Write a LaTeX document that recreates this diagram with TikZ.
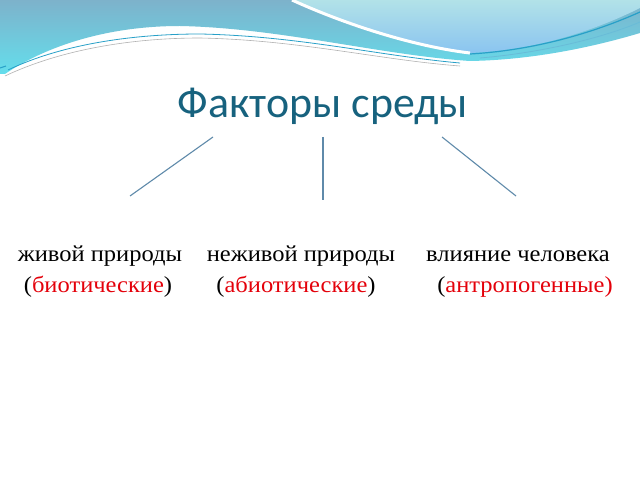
\documentclass[tikz,border=0pt]{standalone}
\usepackage{fontspec}
\setmainfont{Liberation Serif}
\newfontfamily\titlefont{Carlito}
\newfontfamily\bodyfont[FakeStretch=1.07]{Liberation Serif}
\definecolor{titlecol}{RGB}{23,98,126}
\definecolor{redtxt}{RGB}{228,0,10}
\definecolor{linecol}{RGB}{95,138,170}
\definecolor{bandtop}{RGB}{125,178,203}
\definecolor{bandbot}{RGB}{100,222,236}
\definecolor{lighttop}{RGB}{178,226,232}
\definecolor{lightbot}{RGB}{138,196,240}
\definecolor{stripe}{RGB}{40,160,200}
\tikzset{
  titlestyle/.style={font=\titlefont\fontsize{44}{50}\selectfont, text=titlecol, inner sep=0pt, anchor=base},
  bodystyle/.style={font=\bodyfont\fontsize{23}{27}\selectfont, inner sep=0pt, anchor=base},
  link/.style={draw=linecol, line width=1.1bp},
}
\begin{document}
\begin{tikzpicture}[x=1bp,y=-1bp]
\useasboundingbox (0,0) rectangle (640,480);
\fill[white] (0,0) rectangle (640,480);
% main band
\shade[top color=bandtop, bottom color=bandbot]
  (0,0) -- (640,0) -- (640,33)
  .. controls (590,48) and (530,60) .. (470,61)
  .. controls (380,55) and (280,28) .. (180,26)
  .. controls (100,26) and (40,50) .. (5,74)
  -- (0,74) -- cycle;
% light upper-right region
\shade[top color=lighttop, bottom color=lightbot]
  (292,0) .. controls (340,22) and (410,46) .. (470,53)
  .. controls (540,50) and (600,28) .. (640,8)
  -- (640,0) -- cycle;
\draw[white, line width=3bp] (292,0) .. controls (340,22) and (410,46) .. (470,53);
% stripes
\draw[stripe, line width=1.2bp] (470,54) .. controls (540,50) and (600,30) .. (640,12);
\draw[stripe!70!white, line width=0.8bp] (480,58) .. controls (550,52) and (610,35) .. (640,22);
\draw[stripe, line width=0.8bp] (8,70) .. controls (60,45) and (130,34) .. (200,34)
  .. controls (300,36) and (380,56) .. (460,63);
\draw[gray!60, line width=0.6bp] (5,76) .. controls (60,50) and (130,38) .. (200,38)
  .. controls (300,40) and (380,60) .. (460,66);
\draw[stripe, line width=1bp] (0,68) -- (6,66);
% title
\node[titlestyle] (title) at (323,118) {Факторы среды};
% body
\node[bodystyle] (t1) at (100,261) {живой природы};
\node[bodystyle] (t2) at (301,261) {неживой природы};
\node[bodystyle] (t3) at (518,261) {влияние человека};
\node[bodystyle] (s1) at (98,292) {(\textcolor{redtxt}{биотические})};
\node[bodystyle] (s2) at (296,292) {(\textcolor{redtxt}{абиотические})};
\node[bodystyle] (s3) at (525,292) {(\textcolor{redtxt}{антропогенные)}};
% connectors
\coordinate (a1) at (213,137); \coordinate (b1) at (130,196);
\coordinate (a2) at (323,137); \coordinate (b2) at (323,200);
\coordinate (a3) at (442,137); \coordinate (b3) at (516,196);
\draw[link] (a1) -- (b1);
\draw[link] (a2) -- (b2);
\draw[link] (a3) -- (b3);
\end{tikzpicture}
\end{document}
